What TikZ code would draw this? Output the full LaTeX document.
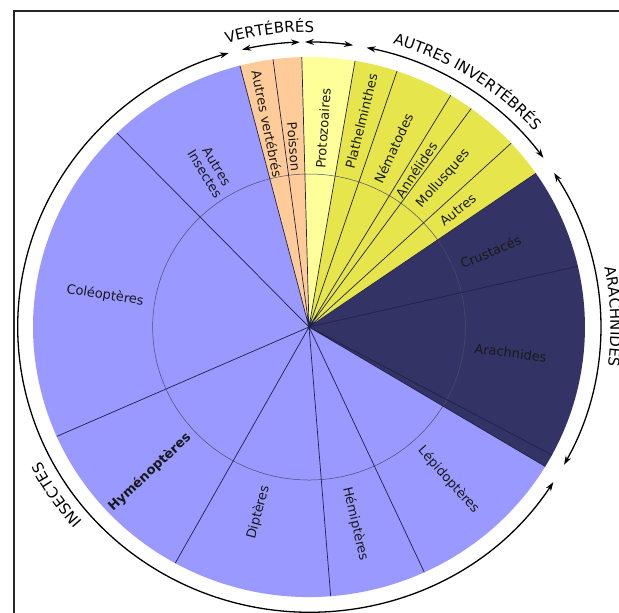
\documentclass[tikz,border=0pt]{standalone}
\usepackage{fontspec}
\setmainfont{DejaVu Sans}
\usepackage{tikz}
\usetikzlibrary{arrows.meta}
\usetikzlibrary{decorations}
\usetikzlibrary{decorations.text}

\definecolor{insectBlue}{HTML}{9999FF}
\definecolor{arthroNavy}{HTML}{333366}
\definecolor{vertPeach}{HTML}{FFCC99}
\definecolor{protoYellow}{HTML}{FFFF99}
\definecolor{invYellow}{HTML}{E6E64C}
\definecolor{sepLine}{HTML}{202048}

\begin{document}
\begin{tikzpicture}[x=1.022pt, y=1pt]
    \tikzstyle{slicelabel} = [
      anchor=center,
      inner sep=0pt,
      font=\fontsize{13pt}{14pt}\selectfont,
      text=black!90,
    ]
    \tikzstyle{separator} = [
      draw=sepLine,
      line width=0.7pt,
    ]
    \tikzstyle{innerring} = [
      draw=sepLine!80,
      line width=0.5pt,
    ]
    \tikzstyle{grouparc} = [
      line width=1.3pt,
      <->,
      >={Stealth[length=9pt, width=6pt]},
      draw=black,
    ]
    \tikzstyle{frame} = [
      line width=2pt,
      draw=black!85,
    ]

    \newcommand{\pieRadius}[0]{270}
    \newcommand{\innerRadius}[0]{153}
    \newcommand{\arcRadius}[0]{285}
    \newcommand{\textRadius}[0]{295}
    \newcommand{\groupFont}[0]{\fontsize{15pt}{15pt}\selectfont}

    \useasboundingbox (-302.35,-285) rectangle (303.3,327);
    \coordinate (pieCenter) at (0,0);

    % frame
    {
      \draw[frame] (-288.6,-300) -- (-288.6,315.5) -- (320,315.5);
    }

    % slices
    {
      \fill[insectBlue] (pieCenter) -- (104.5:\pieRadius) arc[start angle=104.5, end angle=328.9, radius=\pieRadius] -- cycle;
      \fill[arthroNavy] (pieCenter) -- (-31.1:\pieRadius) arc[start angle=-31.1, end angle=34.7, radius=\pieRadius] -- cycle;
      \fill[invYellow] (pieCenter) -- (34.7:\pieRadius) arc[start angle=34.7, end angle=80.4, radius=\pieRadius] -- cycle;
      \fill[protoYellow] (pieCenter) -- (80.4:\pieRadius) arc[start angle=80.4, end angle=91.5, radius=\pieRadius] -- cycle;
      \fill[vertPeach] (pieCenter) -- (91.5:\pieRadius) arc[start angle=91.5, end angle=104.5, radius=\pieRadius] -- cycle;
    }

    % inner ring
    {
      \draw[innerring] (pieCenter) circle (\innerRadius);
    }

    % separators
    {
      \draw[separator]
        (pieCenter) -- (-65.3:\pieRadius)
        (pieCenter) -- (-31.1:\pieRadius)
        (pieCenter) -- (-28.3:\pieRadius)
        (pieCenter) -- (13:\pieRadius)
        (pieCenter) -- (34.7:\pieRadius)
        (pieCenter) -- (42.9:\pieRadius)
        (pieCenter) -- (54:\pieRadius)
        (pieCenter) -- (59.1:\pieRadius)
        (pieCenter) -- (71.4:\pieRadius)
        (pieCenter) -- (80.4:\pieRadius)
        (pieCenter) -- (91.5:\pieRadius)
        (pieCenter) -- (97.5:\pieRadius)
        (pieCenter) -- (104.5:\pieRadius)
        (pieCenter) -- (134.1:\pieRadius)
        (pieCenter) -- (203.9:\pieRadius)
        (pieCenter) -- (241:\pieRadius)
        (pieCenter) -- (274.5:\pieRadius);
    }

    % slice labels
    {
      \node[slicelabel, rotate=-48.2] (lepiLabel) at (-48.2:205) {Lépidoptères};
      \node[slicelabel, rotate=-7.5] (arachLabel) at (-7.5:199) {Arachnides};
      \node[slicelabel, rotate=23] (crustLabel) at (23:193) {Crustacés};
      \node[slicelabel, rotate=38.8] (otherInvLabel) at (38.8:187) {Autres};
      \node[slicelabel, rotate=48.5] (mollLabel) at (48.5:198) {Mollusques};
      \node[slicelabel, rotate=56.3] (anneLabel) at (56.3:189) {Annélides};
      \node[slicelabel, rotate=65.2] (nemaLabel) at (65.2:197) {Nématodes};
      \node[slicelabel, rotate=76] (platLabel) at (76:212) {Plathelminthes};
      \node[slicelabel, rotate=86] (protoLabel) at (86:199) {Protozoaires};
      \node[slicelabel, rotate=-85.3] (poisLabel) at (94.7:181) {Poisson};
      \node[slicelabel, rotate=-78.6] (otherVertLabel) at (101.4:207) {Autres vertébrés};
      \node[slicelabel, rotate=-58.5, align=center] (otherInsLabel) at (121.5:184) {Autres\\Insectes};
      \node[slicelabel, rotate=-9] (coleoLabel) at (171:202) {Coléoptères};
      \node[slicelabel, rotate=43] (hymenLabel) at (223:213) {\bfseries Hyménoptères};
      \node[slicelabel, rotate=75] (diptLabel) at (255:192) {Diptères};
      \node[slicelabel, rotate=-77] (hemiLabel) at (283:202) {Hémiptères};
    }

    % group arcs
    {
      \draw[grouparc] (-33:\arcRadius) arc[start angle=-33, end angle=-254, radius=\arcRadius];
      \draw[grouparc] (103.3:\arcRadius) arc[start angle=103.3, end angle=91.8, radius=\arcRadius];
      \draw[grouparc] (90.8:\arcRadius) arc[start angle=90.8, end angle=81.3, radius=\arcRadius];
      \draw[grouparc] (78.6:\arcRadius) arc[start angle=78.6, end angle=36.4, radius=\arcRadius];
      \draw[grouparc] (32.7:\arcRadius) arc[start angle=32.7, end angle=-28.9, radius=\arcRadius];
    }

    % group labels
    {
      \path[decorate, decoration={text along path, text align=center, text={|\groupFont|VERTÉBRÉS}}]
        (127.5:\textRadius) arc[start angle=127.5, end angle=67.5, radius=\textRadius];
      \path[decorate, decoration={text along path, text align=center, text={|\groupFont|AUTRES INVERTÉBRÉS}}]
        (100:\textRadius) arc[start angle=100, end angle=15, radius=\textRadius];
      \path[decorate, decoration={text along path, text align=center, text={|\groupFont|ARACHNIDES}}]
        (40:\textRadius) arc[start angle=40, end angle=-36, radius=\textRadius];
      \path[decorate, decoration={text along path, text align=center, text={|\groupFont|INSECTES}}]
        (250:\textRadius) arc[start angle=250, end angle=178, radius=\textRadius];
    }
  \end{tikzpicture}
\end{document}
